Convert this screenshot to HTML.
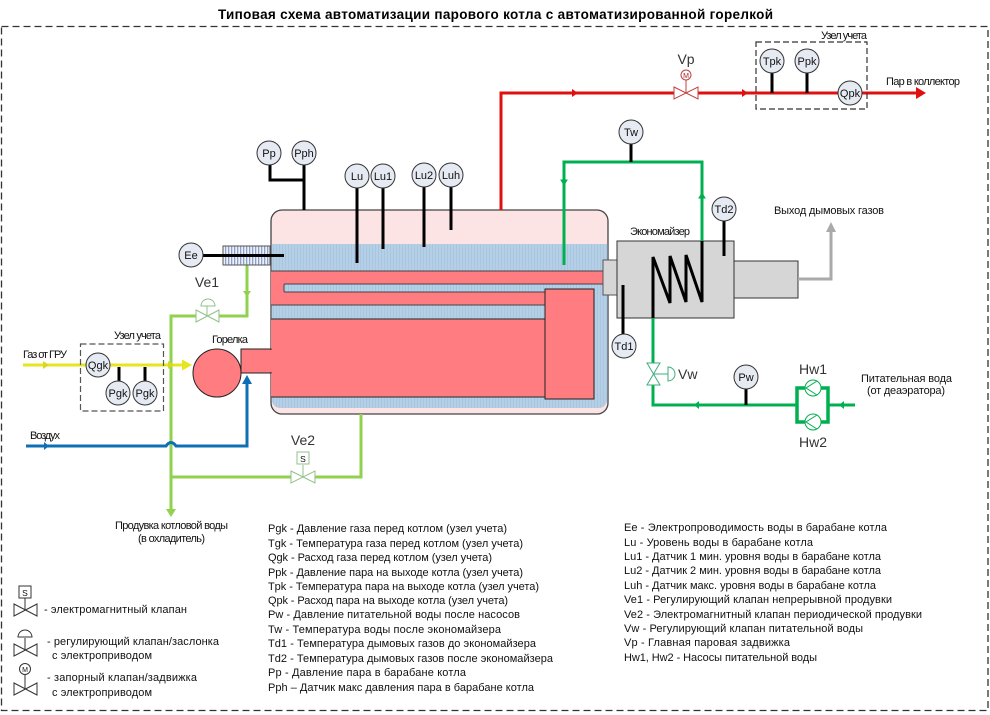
<!DOCTYPE html>
<html><head><meta charset="utf-8">
<style>
html,body{margin:0;padding:0;background:#fff;width:990px;height:715px;overflow:hidden}
svg{display:block}
text{font-family:"Liberation Sans",sans-serif;fill:#111}
.t{font-size:11px}
.c{font-size:11px;text-anchor:middle}
.g{fill:#e6eaf3;stroke:#333;stroke-width:1}
.s{stroke:#000;stroke-width:3;fill:none}
.b{font-size:14px;text-anchor:middle;fill:#333}
</style></head><body>
<svg width="990" height="715" viewBox="0 0 990 715" xmlns="http://www.w3.org/2000/svg">
<defs>
<pattern id="w" width="3" height="3" patternUnits="userSpaceOnUse"><rect width="3" height="3" fill="#b5cfe6"/><rect width="1" height="3" fill="#a9c6df"/></pattern>
<pattern id="h" width="3" height="3" patternUnits="userSpaceOnUse"><rect width="3" height="3" fill="#eef0f8"/><rect width="1.3" height="3" fill="#8fa0c8"/></pattern>
</defs>
<rect width="990" height="715" fill="#fff"/>
<text x="218" y="19" font-size="13.500" font-weight="bold" textLength="555" lengthAdjust="spacing" style="fill:#000">Типовая схема автоматизации парового котла с автоматизированной горелкой</text>
<rect x="1.500" y="26.500" width="986.500" height="684" fill="none" stroke="#333" stroke-width="1.300" stroke-dasharray="7 4"/>

<!-- boiler -->
<rect x="271" y="210" width="337" height="204" rx="11" fill="#fde4e4" stroke="#444" stroke-width="1.300"/>
<path d="M271.600 244H607.400V397Q607.400 408 598 408H281Q271.600 408 271.600 397Z" fill="url(#w)"/>
<path d="M271 271H603V284H284V292H545V305H271Z" fill="#ff7c80"/>
<path d="M271 271H603M284 284H603M284 284V292M284 292H545M271 305H545" fill="none" stroke="#444" stroke-width="1"/>
<rect x="271" y="319" width="274" height="78" fill="#ff7c80"/>
<path d="M271 319H545M271 397H545" stroke="#444" stroke-width="1.200" fill="none"/>
<rect x="545" y="289" width="49" height="110" fill="#ff7c80" stroke="#222" stroke-width="1"/>

<!-- economizer -->
<rect x="603" y="260" width="14" height="35" fill="#d6d6d6" stroke="#555"/>
<rect x="617" y="241" width="117" height="77" fill="#d6d6d6" stroke="#333"/>
<rect x="734" y="261" width="64" height="37" fill="#d6d6d6" stroke="#333"/>
<path d="M798 279H831V228" fill="none" stroke="#aaa" stroke-width="3"/>
<path d="M826 232L831 222L836 232Z" fill="#aaa"/>

<!-- burner -->
<rect x="241" y="349" width="30" height="24" fill="#ff7c80" stroke="#222" stroke-width="1"/>
<rect x="268" y="350" width="5" height="22" fill="#ff7c80"/>
<circle cx="217" cy="373" r="24" fill="#ff7c80" stroke="#222" stroke-width="1"/>

<!-- light green blowdown -->
<path d="M247 265V316H219M196 316H171V510M171 477H291M315 477H361V414" fill="none" stroke="#92d050" stroke-width="3"/>
<path d="M243 291L251 291L247 297Z" fill="#92d050"/>
<path d="M166 509H176L171 517Z" fill="#92d050"/>

<!-- hatch -->
<rect x="223" y="246" width="47" height="19" fill="url(#h)" stroke="#555" stroke-width="1"/>

<!-- yellow -->
<path d="M23 365H184" stroke="#e6e620" stroke-width="3" fill="none"/>
<path d="M182 359.500L192 365L182 370.500Z" fill="#e6e620"/>
<path d="M43 361L49 365L43 369Z" fill="#d8d820"/>
<path d="M168 361L174 365L168 369Z" fill="#d8d820"/>

<!-- blue -->
<path d="M26 446H166Q171 439 176 446H247V382" fill="none" stroke="#0f6fb5" stroke-width="3"/>
<path d="M242 384L247 375L252 384Z" fill="#0f6fb5"/>
<path d="M44 442L49 446L44 450Z" fill="#0f6fb5"/>

<!-- red steam -->
<path d="M501 210V93H674M698 93H918" fill="none" stroke="#e01010" stroke-width="3"/>
<path d="M916 87L926 93L916 99Z" fill="#e01010"/>
<path d="M572 89L578 93L572 97Z" fill="#e01010"/>
<path d="M742 89L748 93L742 97Z" fill="#e01010"/>

<!-- dark green -->
<path d="M564 265V162H702V241" fill="none" stroke="#00b050" stroke-width="3"/>
<path d="M561 180H567L564 185Z" fill="#00b050" stroke="#00b050"/>
<path d="M699 198H705L702 193Z" fill="#00b050" stroke="#00b050"/>
<path d="M653 318V363M653 385V405H797M828 405H855" fill="none" stroke="#00b050" stroke-width="3"/>
<path d="M805 388H797V422H805M821 388H828V422H821" fill="none" stroke="#00b050" stroke-width="3.500"/>
<path d="M699 401L694 405L699 409Z" fill="#00b050"/>
<path d="M844 401L839 405L844 409Z" fill="#00b050"/>
<circle cx="813" cy="388" r="8" fill="#fff" stroke="#00b050"/>
<path d="M817 381L806 388L817 395" fill="none" stroke="#00b050"/>
<circle cx="813" cy="422" r="8" fill="#fff" stroke="#00b050"/>
<path d="M817 415L806 422L817 429" fill="none" stroke="#00b050"/>

<!-- coil -->
<path d="M653 318V257L670 303V256L686 302V255L702 302V241" fill="none" stroke="#000" stroke-width="3"/>

<!-- dashed boxes -->
<rect x="80.500" y="344" width="83" height="67" fill="none" stroke="#555" stroke-width="1.200" stroke-dasharray="6 3"/>
<rect x="756" y="42" width="111" height="67" fill="none" stroke="#333" stroke-width="1.200" stroke-dasharray="6 3"/>

<!-- stems -->
<path class="s" d="M203 255.500H284M119 367V381M145 367V381M270 165V180H304M304 165V210M357 188V263M383 188V249M424 187V247M451 187V230M631 144V162M724 221V256M623 285V335M746 389V405M772 73V93M807 73V93"/>

<!-- valves -->
<g fill="#fff" stroke="#92c08a" stroke-width="1">
<path d="M196 310L219 322V310L196 322Z"/><path d="M207 316V306"/><path d="M201 306A7 7 0 0 1 215 306Z"/>
<path d="M291 471L315 483V471L291 483Z"/><path d="M303 477V465"/><rect x="297" y="452" width="12" height="12"/>
</g>
<text x="303" y="462" font-size="8.500" text-anchor="middle">S</text>
<g fill="#fff" stroke="#c04040" stroke-width="1">
<path d="M674 87L698 99V87L674 99Z"/><path d="M686 93V80"/><circle cx="686" cy="75" r="5"/>
</g>
<text x="686" y="78" font-size="7" text-anchor="middle" style="fill:#a02020">M</text>
<g fill="#fff" stroke="#3fae7a" stroke-width="1">
<path d="M647 363L660 363L647 385L660 385Z"/><path d="M654 374H668"/><path d="M668 367A7 7 0 0 1 668 381Z"/>
</g>

<!-- legend valves -->
<g fill="#fff" stroke="#333" stroke-width="1">
<path d="M14 604L37 616V604L14 616Z"/><path d="M25 610V598"/><rect x="19" y="586" width="12" height="12"/>
<path d="M14 644L37 656V644L14 656Z"/><path d="M25 650V638"/><path d="M18 637A7 7 0 0 1 32 637Z"/>
<path d="M14 683L37 695V683L14 695Z"/><path d="M25 689V675"/><circle cx="25" cy="669" r="5.500"/>
</g>
<text x="25" y="596" font-size="8.500" text-anchor="middle">S</text>
<text x="25" y="672" font-size="7" text-anchor="middle">M</text>

<!-- gauges -->
<g class="g">
<circle cx="191" cy="255" r="12"/><circle cx="98" cy="365" r="12"/><circle cx="118" cy="393" r="12"/><circle cx="145" cy="393" r="12"/>
<circle cx="269" cy="153" r="12"/><circle cx="304" cy="153" r="12"/><circle cx="357" cy="176" r="12"/><circle cx="383" cy="176" r="12"/><circle cx="424" cy="175" r="12"/><circle cx="451" cy="175" r="12"/>
<circle cx="631" cy="132" r="12"/><circle cx="724" cy="209" r="12"/><circle cx="624" cy="346" r="12"/><circle cx="746" cy="377" r="12"/>
<circle cx="772" cy="61" r="12"/><circle cx="807" cy="61" r="12"/><circle cx="850" cy="93" r="12"/>
</g>
<g>
<text class="c" x="191" y="259">Ee</text><text class="c" x="98" y="369">Qgk</text><text class="c" x="118" y="397">Pgk</text><text class="c" x="145" y="397">Pgk</text>
<text class="c" x="269" y="157">Pp</text><text class="c" x="304" y="157">Pph</text><text class="c" x="357" y="180">Lu</text><text class="c" x="383" y="180">Lu1</text><text class="c" x="424" y="179">Lu2</text><text class="c" x="451" y="179">Luh</text>
<text class="c" x="631" y="136">Tw</text><text class="c" x="724" y="213">Td2</text><text class="c" x="624" y="350">Td1</text><text class="c" x="746" y="381">Pw</text>
<text class="c" x="772" y="65">Tpk</text><text class="c" x="807" y="65">Ppk</text><text class="c" x="850" y="97">Qpk</text>
</g>

<!-- labels -->
<text class="b" x="207" y="287">Ve1</text>
<text class="b" x="303" y="445">Ve2</text>
<text class="b" x="686" y="64">Vp</text>
<text x="678" y="379" font-size="14" style="fill:#333">Vw</text>
<text class="b" x="813" y="374">Hw1</text>
<text class="b" x="813" y="447">Hw2</text>
<text class="t" x="23" y="358" textLength="44" lengthAdjust="spacing">Газ от ГРУ</text>
<text class="t" x="30" y="439" textLength="30" lengthAdjust="spacing">Воздух</text>
<text class="t" x="114" y="339" textLength="47" lengthAdjust="spacing">Узел учета</text>
<text class="t" x="821" y="39" textLength="46" lengthAdjust="spacing">Узел учета</text>
<text class="t" x="212" y="343" textLength="36" lengthAdjust="spacing">Горелка</text>
<text class="t" x="630" y="235" textLength="60" lengthAdjust="spacing">Экономайзер</text>
<text class="t" x="774" y="214" textLength="110" lengthAdjust="spacing">Выход дымовых газов</text>
<text class="t" x="886" y="85" textLength="74" lengthAdjust="spacing">Пар в коллектор</text>
<text class="t" x="861" y="382" textLength="91" lengthAdjust="spacing">Питательная вода</text>
<text class="t" x="867" y="394" textLength="78" lengthAdjust="spacing">(от деаэратора)</text>
<text class="t" x="115" y="529" textLength="113" lengthAdjust="spacing">Продувка котловой воды</text>
<text class="t" x="138" y="542" textLength="67" lengthAdjust="spacing">(в охладитель)</text>

<text class="t" x="44" y="613" textLength="143" lengthAdjust="spacing">- электромагнитный клапан</text>
<text class="t" x="47" y="645" textLength="172" lengthAdjust="spacing">- регулирующий клапан/заслонка</text>
<text class="t" x="52" y="659" textLength="100" lengthAdjust="spacing">с электроприводом</text>
<text class="t" x="47" y="681" textLength="150" lengthAdjust="spacing">- запорный клапан/задвижка</text>
<text class="t" x="52" y="696" textLength="100" lengthAdjust="spacing">с электроприводом</text>

<g>
<text class="t" x="268" y="532" textLength="239" lengthAdjust="spacing">Pgk  - Давление газа перед котлом (узел учета)</text>
<text class="t" x="268" y="547" textLength="255" lengthAdjust="spacing">Tgk  - Температура газа перед котлом (узел учета)</text>
<text class="t" x="268" y="561" textLength="224" lengthAdjust="spacing">Qgk - Расход газа перед котлом (узел учета)</text>
<text class="t" x="268" y="576" textLength="255" lengthAdjust="spacing">Ppk  - Давление пара на выходе котла (узел учета)</text>
<text class="t" x="268" y="590" textLength="271" lengthAdjust="spacing">Tpk  - Температура пара на выходе котла (узел учета)</text>
<text class="t" x="268" y="604" textLength="240" lengthAdjust="spacing">Qpk - Расход пара на выходе котла (узел учета)</text>
<text class="t" x="268" y="618" textLength="252" lengthAdjust="spacing">Pw   - Давление питательной воды после насосов</text>
<text class="t" x="268" y="633" textLength="233" lengthAdjust="spacing">Tw   - Температура воды после экономайзера</text>
<text class="t" x="268" y="647" textLength="268" lengthAdjust="spacing">Td1  - Температура дымовых газов до экономайзера</text>
<text class="t" x="268" y="662" textLength="285" lengthAdjust="spacing">Td2  - Температура дымовых газов после экономайзера</text>
<text class="t" x="268" y="676" textLength="198" lengthAdjust="spacing">Pp   - Давление пара в барабане котла</text>
<text class="t" x="268" y="691" textLength="266" lengthAdjust="spacing">Pph – Датчик макс давления пара в барабане котла</text>

<text class="t" x="624" y="531" textLength="263" lengthAdjust="spacing">Ee   - Электропроводимость воды в барабане котла</text>
<text class="t" x="624" y="546" textLength="189" lengthAdjust="spacing">Lu   - Уровень воды в барабане котла</text>
<text class="t" x="624" y="560" textLength="257" lengthAdjust="spacing">Lu1 - Датчик 1 мин. уровня воды в барабане котла</text>
<text class="t" x="624" y="574" textLength="257" lengthAdjust="spacing">Lu2 - Датчик 2 мин. уровня воды в барабане котла</text>
<text class="t" x="624" y="589" textLength="252" lengthAdjust="spacing">Luh - Датчик макс. уровня воды в барабане котла</text>
<text class="t" x="624" y="603" textLength="268" lengthAdjust="spacing">Ve1 - Регулирующий клапан непрерывной продувки</text>
<text class="t" x="624" y="618" textLength="298" lengthAdjust="spacing">Ve2 - Электромагнитный клапан периодической продувки</text>
<text class="t" x="624" y="632" textLength="239" lengthAdjust="spacing">Vw  - Регулирующий клапан питательной воды</text>
<text class="t" x="624" y="646" textLength="166" lengthAdjust="spacing">Vp   - Главная паровая задвижка</text>
<text class="t" x="624" y="661" textLength="193" lengthAdjust="spacing">Hw1, Hw2 - Насосы питательной воды</text>
</g>
</svg>
</body></html>
